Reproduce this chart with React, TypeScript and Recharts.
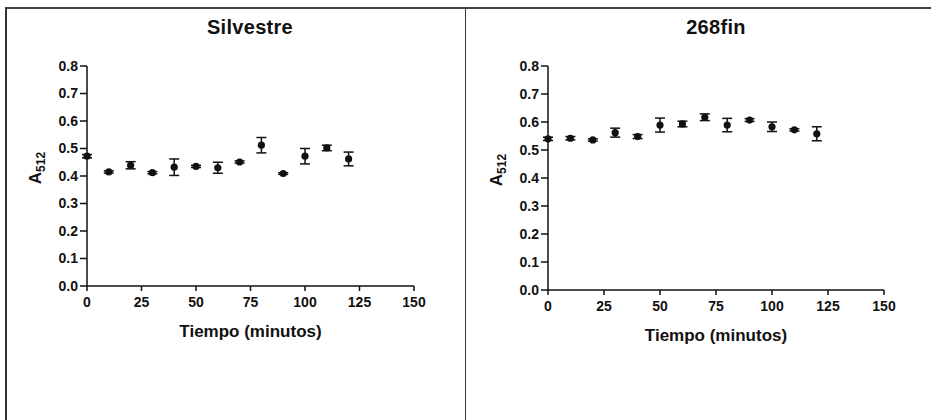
import React from 'react';
import { ScatterChart, Scatter, XAxis, YAxis, ErrorBar } from 'recharts';

const timesMin = [0, 10, 20, 30, 40, 50, 60, 70, 80, 90, 100, 110, 120];
const silvestreA512 = [0.472, 0.415, 0.439, 0.412, 0.432, 0.435, 0.43, 0.451, 0.512, 0.409, 0.472, 0.502, 0.462];
const silvestreErr = [0.006, 0.004, 0.013, 0.004, 0.03, 0.004, 0.02, 0.004, 0.028, 0.003, 0.028, 0.01, 0.025];
const fin268A512 = [0.54, 0.542, 0.536, 0.562, 0.548, 0.589, 0.593, 0.617, 0.589, 0.607, 0.583, 0.572, 0.558];
const fin268Err = [0.006, 0.006, 0.004, 0.016, 0.007, 0.025, 0.01, 0.012, 0.024, 0.005, 0.017, 0.004, 0.025];
const xTicks = [0, 25, 50, 75, 100, 125, 150];
const yTicks = [0, 0.1, 0.2, 0.3, 0.4, 0.5, 0.6, 0.7, 0.8];
const titles = ['Silvestre', '268fin'];
const xTitle = 'Tiempo (minutos)';

const FONT = '"Liberation Sans", Arial, Helvetica, sans-serif';

const build = (ys: number[], es: number[]) => timesMin.map((t, i) => ({ t, a: ys[i], err: es[i] }));

const Dot = (p: any) => <circle cx={p.cx} cy={p.cy} r={3.6} fill="#111" />;

const YLabel = (props: any) => {
  const vb = props.viewBox || {};
  const x = vb.x + 14;
  const y = vb.y + vb.height / 2 - 8;
  return (
    <text
      x={x}
      y={y}
      transform={`rotate(-90, ${x}, ${y})`}
      textAnchor="middle"
      fontFamily={FONT}
      fontWeight="bold"
      fill="#111"
    >
      <tspan fontSize={17}>A</tspan>
      <tspan fontSize={12} dy={4}>512</tspan>
    </text>
  );
};

const XLabel = (props: any) => {
  const vb = props.viewBox || {};
  return (
    <text
      x={vb.x + vb.width / 2}
      y={vb.y + 51}
      textAnchor="middle"
      fontFamily={FONT}
      fontWeight="bold"
      fontSize={17}
      fill="#111"
    >
      {xTitle}
    </text>
  );
};

const tickStyle = { fontFamily: FONT, fontWeight: 'bold' as const, fontSize: 14, fill: '#111' };

const Panel = ({
  data,
  width,
  margin,
}: {
  data: { t: number; a: number; err: number }[];
  width: number;
  margin: { top: number; left: number; right: number; bottom: number };
}) => (
  <ScatterChart width={width} height={420} margin={margin}>
    <XAxis
      type="number"
      dataKey="t"
      domain={[0, 150]}
      ticks={xTicks}
      interval={0}
      height={60}
      tickSize={5}
      tickMargin={6}
      tick={tickStyle}
      stroke="#111"
      strokeWidth={1.5}
      label={<XLabel />}
    />
    <YAxis
      type="number"
      dataKey="a"
      domain={[0, 0.8]}
      ticks={yTicks}
      interval={0}
      width={60}
      tickSize={7}
      tickMargin={2}
      tick={tickStyle}
      tickFormatter={(v: number) => v.toFixed(1)}
      stroke="#111"
      strokeWidth={1.5}
      label={<YLabel />}
    />
    <Scatter data={data} shape={Dot} isAnimationActive={false}>
      <ErrorBar dataKey="err" direction="y" width={5} stroke="#111" strokeWidth={1.5} />
    </Scatter>
  </ScatterChart>
);

const titleStyle = (center: number): React.CSSProperties => ({
  position: 'absolute',
  left: center - 100,
  width: 200,
  top: 15,
  textAlign: 'center',
  fontFamily: FONT,
  fontWeight: 'bold',
  fontSize: 20,
  letterSpacing: 0.3,
  color: '#111',
  lineHeight: '24px',
});

export default function App() {
  return (
    <div style={{ position: 'absolute', left: 0, top: 0, width: 931, height: 420, overflow: 'hidden', background: '#fff' }}>
      <div
        style={{
          position: 'absolute',
          left: 5,
          top: 7,
          width: 940,
          height: 430,
          borderTop: '2px solid #444',
          borderLeft: '2px solid #333',
        }}
      />
      <div style={{ position: 'absolute', left: 465, top: 7, width: 1, height: 420, background: '#333' }} />
      <div style={{ position: 'absolute', left: 0, top: 0 }}>
        <Panel data={build(silvestreA512, silvestreErr)} width={465} margin={{ top: 66, left: 27, right: 51, bottom: 74 }} />
      </div>
      <div style={{ position: 'absolute', left: 465, top: 0 }}>
        <Panel data={build(fin268A512, fin268Err)} width={466} margin={{ top: 66, left: 23, right: 47, bottom: 70 }} />
      </div>
      <div style={titleStyle(250)}>{titles[0]}</div>
      <div style={titleStyle(716)}>{titles[1]}</div>
    </div>
  );
}
